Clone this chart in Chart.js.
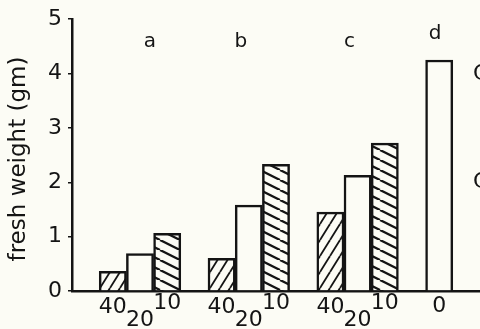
<!DOCTYPE html>
<html>
<head>
<meta charset="utf-8">
<script src="https://cdn.jsdelivr.net/npm/chart.js@4"></script>
<style>
  html, body { margin: 0; padding: 0; background: #fcfcf5; }
  #wrap { width: 480px; height: 329px; position: relative; }
</style>
</head>
<body>
<div id="wrap"><canvas id="chart" width="480" height="329"></canvas></div>
<script>
  // data
  const groupLetters = ['a', 'b', 'c', 'd'];
  const levelLabels = ['40', '20', '10'];
  const wt40 = [0.36, 0.60, 1.45];
  const wt20 = [0.69, 1.58, 2.13];
  const wt10 = [1.06, 2.33, 2.72];
  const controlLabel = '0';
  const wtControl = 4.25;
  const yTicks = [0, 1, 2, 3, 4, 5];

  const INK = '#141414';
  const PAPER = '#fcfcf5';
  const FONT = '"DejaVu Sans", sans-serif';

  // slots on the x axis: gap, 3 bars, gap, 3 bars, gap, 3 bars, gap, control, gap
  const slotCount = 15;
  const slots = [];
  for (let i = 0; i < slotCount; i++) slots.push('s' + i);
  const slotOf = (g, l) => 1 + 4 * g + l;
  const controlSlot = 13;

  function buildSeries(values, level) {
    const arr = new Array(slotCount).fill(null);
    values.forEach((v, g) => { arr[slotOf(g, levelLabels.indexOf(level))] = v; });
    return arr;
  }
  const s40 = buildSeries(wt40, '40');
  const s20 = buildSeries(wt20, '20');
  const s10 = buildSeries(wt10, '10');
  const sCtl = new Array(slotCount).fill(null);
  sCtl[controlSlot] = wtControl;

  // hatch patterns
  function hatch(w, h, lw, rising) {
    const c = document.createElement('canvas');
    c.width = w; c.height = h;
    const g = c.getContext('2d');
    g.fillStyle = PAPER;
    g.fillRect(0, 0, w, h);
    g.strokeStyle = INK;
    g.lineWidth = lw;
    for (let k = -1; k <= 1; k++) {
      g.beginPath();
      if (rising) {
        g.moveTo(k * w, h); g.lineTo(k * w + w, 0);
      } else {
        g.moveTo(k * w, 0); g.lineTo(k * w + w, h);
      }
      g.stroke();
    }
    return g.createPattern(c, 'repeat');
  }
  const ctx = document.getElementById('chart').getContext('2d');
  const fwdHatch = hatch(10, 16, 1.8, true);
  const backHatch = hatch(20, 10, 2.3, false);

  function barSet(label, data, fill) {
    return {
      label, data,
      backgroundColor: fill,
      borderColor: INK,
      borderWidth: 2.5,
      borderSkipped: 'bottom',
      barPercentage: 1,
      categoryPercentage: 1,
      grouped: false
    };
  }

  const textPlugin = {
    id: 'figText',
    afterDraw(chart) {
      const g = chart.ctx;
      const x = chart.scales.x;
      const area = chart.chartArea;
      g.save();
      g.fillStyle = INK;
      g.textAlign = 'center';
      g.textBaseline = 'middle';

      // y axis title
      g.save();
      g.translate(19, 159);
      g.rotate(-Math.PI / 2);
      g.font = '23px ' + FONT;
      g.fillText('fresh weight (gm)', 0, 0);
      g.restore();

      // group letters
      g.font = '20px ' + FONT;
      const nudge = [10, -8, -8, -4];
      const letterY = [42, 42, 42, 34];
      groupLetters.forEach((t, i) => {
        const s = i < 3 ? slotOf(i, 1) : controlSlot;
        g.fillText(t, x.getPixelForValue(s) + nudge[i], letterY[i]);
      });

      // x tick labels, with the "20" dropped and the "10" raised
      g.font = '22px ' + FONT;
      const dy = { '40': 16, '20': 29, '10': 12 };
      for (let gi = 0; gi < 3; gi++) {
        levelLabels.forEach((t, l) => {
          g.fillText(t, x.getPixelForValue(slotOf(gi, l)), area.bottom + dy[t]);
        });
      }
      g.fillText(controlLabel, x.getPixelForValue(controlSlot), area.bottom + 15);

      // letters cut off at the right edge
      g.font = '22px ' + FONT;
      g.textAlign = 'left';
      g.fillText('C', 473, 74);
      g.fillText('C', 473, 182);
      g.restore();
    }
  };

  new Chart(ctx, {
    type: 'bar',
    data: {
      labels: slots,
      datasets: [
        barSet('40', s40, fwdHatch),
        barSet('20', s20, PAPER),
        barSet('10', s10, backHatch),
        barSet('0', sCtl, PAPER)
      ]
    },
    options: {
      responsive: false,
      animation: false,
      devicePixelRatio: 1,
      layout: { padding: { top: 17, right: 0, bottom: 0, left: 0 } },
      plugins: {
        legend: { display: false },
        tooltip: { enabled: false }
      },
      scales: {
        x: {
          type: 'category',
          grid: { display: false },
          border: { display: true, color: INK, width: 2.5 },
          ticks: { display: false },
          afterFit(scale) { scale.height = 38; }
        },
        y: {
          min: yTicks[0],
          max: yTicks[yTicks.length - 1],
          afterBuildTicks(scale) { scale.ticks = yTicks.map(v => ({ value: v })); },
          grid: {
            drawOnChartArea: false,
            drawTicks: true,
            tickLength: 4,
            color: INK,
            lineWidth: 1.5
          },
          border: { display: true, color: INK, width: 2.5 },
          ticks: {
            color: INK,
            padding: 6,
            font: { family: FONT, size: 22 }
          },
          afterFit(scale) { scale.width = 72; }
        }
      }
    },
    plugins: [textPlugin]
  });
</script>
</body>
</html>
